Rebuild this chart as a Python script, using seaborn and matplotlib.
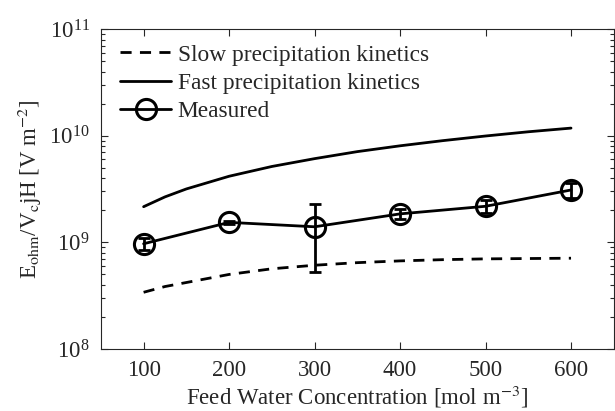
import numpy as np
import pandas as pd
import matplotlib
matplotlib.use('Agg')
import matplotlib.pyplot as plt
import seaborn as sns

# curve concentrations [mol m^-3]
conc_curve = [100, 125, 150, 200, 250, 300, 350, 400, 450, 500, 550, 600]
slow_vals = [3.4e8, 3.85e8, 4.2e8, 5.0e8, 5.65e8, 6.1e8, 6.45e8, 6.7e8, 6.88e8, 7.0e8, 7.05e8, 7.1e8]
fast_vals = [2.16e9, 2.67e9, 3.17e9, 4.17e9, 5.15e9, 6.1e9, 7.1e9, 8.05e9, 9.0e9, 9.95e9, 10.9e9, 11.8e9]

# measured points
conc_meas = [100, 200, 300, 400, 500, 600]
meas_vals = [0.97e9, 1.54e9, 1.40e9, 1.85e9, 2.18e9, 3.1e9]
meas_err = [0.13e9, 0.05e9, 0.87e9, 0.2e9, 0.3e9, 0.5e9]

sns.set_style('ticks')
plt.rcParams['font.family'] = ['Liberation Serif', 'DejaVu Serif']
plt.rcParams['mathtext.fontset'] = 'stix'
plt.rcParams['xtick.direction'] = 'in'
plt.rcParams['ytick.direction'] = 'in'

curves = pd.DataFrame({'conc': conc_curve, 'slow': slow_vals, 'fast': fast_vals})
meas = pd.DataFrame({'conc': conc_meas, 'val': meas_vals})

fig = plt.figure(figsize=(6.15, 4.11), dpi=100)
ax = fig.add_axes([0.164, 0.151, 0.834, 0.778])

sns.lineplot(data=curves, x='conc', y='slow', ax=ax, color='black', lw=2.0,
             linestyle=(0, (4, 3)), label='Slow precipitation kinetics')
sns.lineplot(data=curves, x='conc', y='fast', ax=ax, color='black', lw=2.0,
             label='Fast precipitation kinetics')
ax.errorbar(conc_meas, meas_vals, yerr=meas_err, fmt='none', ecolor='black',
            elinewidth=2.0, capsize=4, capthick=2.0)
sns.lineplot(data=meas, x='conc', y='val', ax=ax, color='black', lw=2.0,
             marker='o', ms=14.5, mfc='none', mec='black', mew=2.2, label='Measured')

ax.set_yscale('log')
ax.set_ylim(1e8, 1e11)
ax.set_xlim(50, 650)
ax.set_xticks([100, 200, 300, 400, 500, 600])
ax.tick_params(which='both', top=True, right=True, labelsize=16.5, width=0.8)
ax.tick_params(which='major', length=5)
ax.tick_params(which='minor', length=3)
ax.tick_params(axis='x', which='major', pad=8)
ax.tick_params(axis='y', which='major', pad=8)
for s in ax.spines.values():
    s.set_linewidth(0.8)

ax.set_xlabel(r'Feed Water Concentration [mol m$^{-3}$]', fontsize=16.5, labelpad=2)
ax.set_ylabel(r'E$_{\mathrm{ohm}}$/V$_{\mathrm{c}}$jH [V m$^{-2}$]', fontsize=16.5, labelpad=4)

ax.legend(loc='upper left', bbox_to_anchor=(0.02, 0.982), frameon=False, fontsize=16.8,
          handlelength=2.15, borderaxespad=0, labelspacing=0.29, handletextpad=0.3)

fig.savefig('out.png', dpi=100)
